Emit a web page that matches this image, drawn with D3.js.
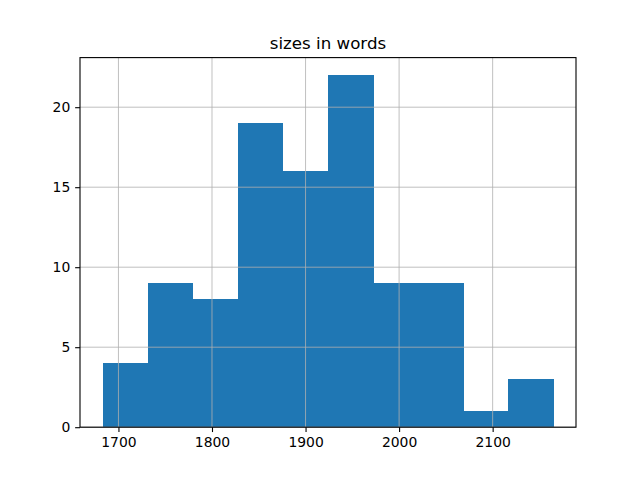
<!DOCTYPE html>
<html><head><meta charset="utf-8">
<script src="https://cdn.jsdelivr.net/npm/d3@7"></script>
<style>body{margin:0;background:#fff}svg{display:block}text{font-family:"DejaVu Sans",sans-serif}</style>
</head><body>
<script>
const binStart = 1683;
const binEnd = 2165;
const counts = [4, 9, 8, 19, 16, 22, 9, 9, 1, 3];
const xTicks = [1700, 1800, 1900, 2000, 2100];
const yTicks = [0, 5, 10, 15, 20];
const title = "sizes in words";

const W = 640, H = 480;
const m = {left: 80, right: 576, top: 57.6, bottom: 427.2};
const svg = d3.select("body").append("svg").attr("width", W).attr("height", H);

const bw = (binEnd - binStart) / counts.length;
const bins = counts.map((c, i) => ({x0: binStart + i * bw, x1: binStart + (i + 1) * bw, c}));
const span = binEnd - binStart;
const x = d3.scaleLinear().domain([binStart - 0.05 * span, binEnd + 0.05 * span]).range([m.left, m.right]);
const yMax = d3.max(counts) * 1.05;
const y = d3.scaleLinear().domain([0, yMax]).range([m.bottom, m.top]);

svg.append("g").attr("shape-rendering", "crispEdges").selectAll("rect").data(bins).join("rect")
  .attr("x", d => x(d.x0)).attr("width", d => x(d.x1) - x(d.x0) + 0.5)
  .attr("y", d => y(d.c)).attr("height", d => y(0) - y(d.c))
  .attr("fill", "#1f77b4");

// grid on top
const grid = svg.append("g").attr("stroke", "#b0b0b0").attr("stroke-width", 0.8);
grid.selectAll(".gx").data(xTicks).join("line")
  .attr("x1", d => x(d)).attr("x2", d => x(d)).attr("y1", m.top).attr("y2", m.bottom);
grid.selectAll(".gy").data(yTicks).join("line")
  .attr("x1", m.left).attr("x2", m.right).attr("y1", d => y(d)).attr("y2", d => y(d));

const xAxis = svg.append("g").attr("transform", `translate(0,${m.bottom})`)
  .call(d3.axisBottom(x).tickValues(xTicks).tickSize(4.86).tickPadding(4.86).tickFormat(d3.format("d")));
const yAxis = svg.append("g").attr("transform", `translate(${m.left},0)`)
  .call(d3.axisLeft(y).tickValues(yTicks).tickSize(4.86).tickPadding(4.86).tickFormat(d3.format("d")));
[xAxis, yAxis].forEach(a => {
  a.select(".domain").remove();
  a.selectAll("line").attr("stroke", "#000").attr("stroke-width", 1.1);
  a.selectAll("text").attr("font-size", 13.9).attr("fill", "#000").style("font-family", '"DejaVu Sans", sans-serif');
});

svg.append("rect").attr("x", m.left).attr("y", m.top).attr("width", m.right - m.left).attr("height", m.bottom - m.top)
  .attr("fill", "none").attr("stroke", "#000").attr("stroke-width", 1.1);

svg.append("text").attr("x", (m.left + m.right) / 2).attr("y", m.top - 8.3)
  .attr("text-anchor", "middle").attr("font-size", 16.67).attr("fill", "#000").text(title);
</script>
</body></html>
